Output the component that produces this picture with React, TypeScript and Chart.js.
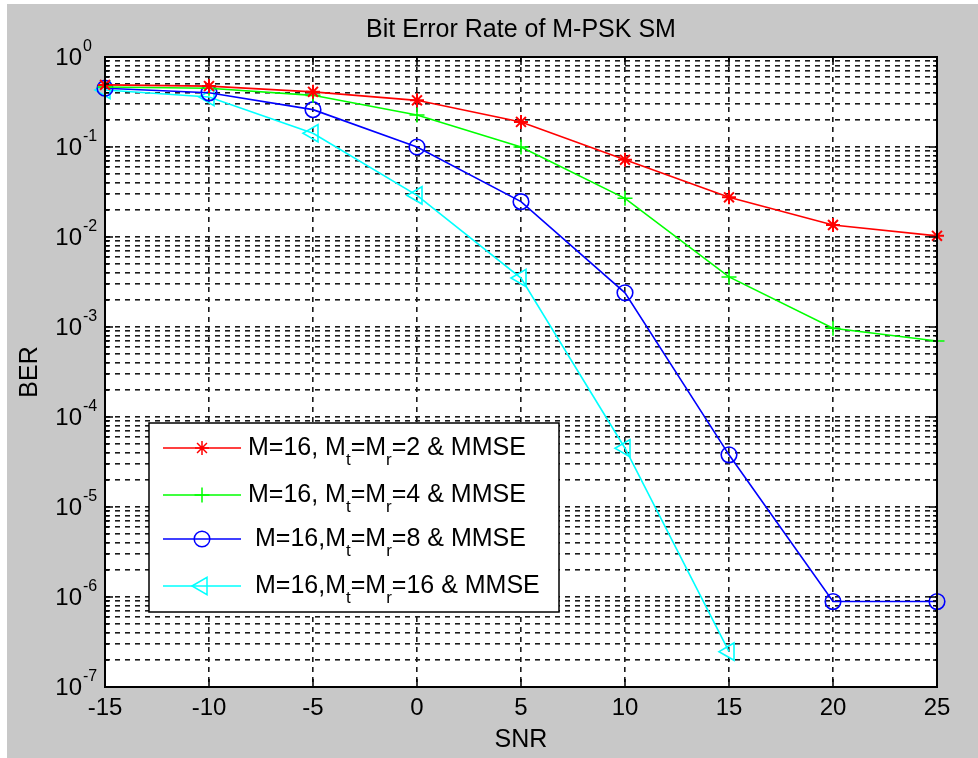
import React, { useEffect, useRef } from 'react';
import { Chart, registerables } from 'chart.js';
import { drawPoint } from 'chart.js/helpers';

Chart.register(...registerables);

// ---------- data ----------
const snr = [-15, -10, -5, 0, 5, 10, 15, 20, 25];
const snrMt16 = [-15, -10, -5, 0, 5, 10, 15];
const berMt2 = [0.49, 0.475, 0.41, 0.33, 0.19, 0.072, 0.0276, 0.0136, 0.0103];
const berMt4 = [0.464, 0.45, 0.375, 0.227, 0.1, 0.0269, 0.0036, 0.00097, 0.0007];
const berMt8 = [0.45, 0.4, 0.26, 0.1, 0.0247, 0.0024, 3.8e-5, 8.9e-7, 8.9e-7];
const berMt16 = [0.43, 0.36, 0.142, 0.029, 0.0035, 4.5e-5, 2.47e-7];

const seriesColors = ['#ff0000', '#00ff00', '#0000ff', '#00ffff'];
const seriesMarkers = ['star', 'cross', 'circle', 'triangle'];
const seriesMarkerRadius = [7, 7.5, 7.8, 10];
const seriesMarkerRotation = [0, 0, 0, -90];

// legend labels: [normal, subscript, normal, subscript, normal]
const legendMt2 = ['M=16, M', 't', '=M', 'r', '=2 & MMSE'];
const legendMt4 = ['M=16, M', 't', '=M', 'r', '=4 & MMSE'];
const legendMt8 = ['M=16,M', 't', '=M', 'r', '=8 & MMSE'];
const legendMt16 = ['M=16,M', 't', '=M', 'r', '=16 & MMSE'];

const xTickValues = [-15, -10, -5, 0, 5, 10, 15, 20, 25];
const yTickExponents = [0, -1, -2, -3, -4, -5, -6, -7];
const yMinorMantissas = [2, 3, 4, 5, 6, 7, 8, 9];

const titleText = 'Bit Error Rate of M-PSK SM';
const xAxisLabel = 'SNR';
const yAxisLabel = 'BER';

const FONT = '"Liberation Sans", Arial, Helvetica, sans-serif';

function toPoints(xs: number[], ys: number[]) {
  return xs.map((x, i) => ({ x, y: ys[i] }));
}

const decorPlugin = {
  id: 'decor',
  beforeDraw(chart: any) {
    const { ctx, width, height, chartArea: a } = chart;
    ctx.save();
    ctx.fillStyle = '#ffffff';
    ctx.fillRect(0, 0, width, height);
    ctx.fillStyle = '#c8c8c8';
    ctx.fillRect(7, 4, width - 7, height - 4);
    ctx.fillStyle = '#ffffff';
    ctx.fillRect(a.left, a.top, a.right - a.left, a.bottom - a.top);
    ctx.restore();
  },
  afterDatasetsDraw(chart: any) {
    const { ctx, chartArea: a, scales } = chart;
    const xs = scales.x;
    const ys = scales.y;
    ctx.save();
    // box
    ctx.strokeStyle = '#000000';
    ctx.lineWidth = 2;
    ctx.setLineDash([]);
    ctx.strokeRect(a.left, a.top, a.right - a.left, a.bottom - a.top);

    // inside ticks
    ctx.lineWidth = 1.5;
    ctx.beginPath();
    xTickValues.forEach((v) => {
      const px = xs.getPixelForValue(v);
      ctx.moveTo(px, a.bottom);
      ctx.lineTo(px, a.bottom - 8);
      ctx.moveTo(px, a.top);
      ctx.lineTo(px, a.top + 8);
    });
    yTickExponents.forEach((e) => {
      const py = ys.getPixelForValue(Math.pow(10, e));
      ctx.moveTo(a.left, py);
      ctx.lineTo(a.left + 8, py);
      ctx.moveTo(a.right, py);
      ctx.lineTo(a.right - 8, py);
      if (e > -7) {
        yMinorMantissas.forEach((m) => {
          const pm = ys.getPixelForValue(m * Math.pow(10, e - 1));
          ctx.moveTo(a.left, pm);
          ctx.lineTo(a.left + 4, pm);
          ctx.moveTo(a.right, pm);
          ctx.lineTo(a.right - 4, pm);
        });
      }
    });
    ctx.stroke();

    // x tick labels
    ctx.fillStyle = '#000000';
    ctx.font = `24px ${FONT}`;
    ctx.textAlign = 'center';
    ctx.textBaseline = 'alphabetic';
    xTickValues.forEach((v) => {
      ctx.fillText(String(v), xs.getPixelForValue(v), a.bottom + 28);
    });

    // y tick labels 10^e
    yTickExponents.forEach((e) => {
      const py = ys.getPixelForValue(Math.pow(10, e));
      ctx.font = `24px ${FONT}`;
      ctx.textAlign = 'right';
      ctx.fillText('10', a.left - 23, py + 8);
      ctx.font = `16px ${FONT}`;
      ctx.textAlign = 'left';
      ctx.fillText(String(e), a.left - 22, py - 6);
    });

    // title and axis labels
    ctx.font = `25px ${FONT}`;
    ctx.textAlign = 'center';
    ctx.fillText(titleText, (a.left + a.right) / 2, 37);
    ctx.fillText(xAxisLabel, (a.left + a.right) / 2, 747);
    ctx.save();
    ctx.translate(37, (a.top + a.bottom) / 2);
    ctx.rotate(-Math.PI / 2);
    ctx.fillText(yAxisLabel, 0, 0);
    ctx.restore();

    // legend
    const lx = 149, ly = 423, lw = 410, lh = 189;
    ctx.fillStyle = '#ffffff';
    ctx.fillRect(lx, ly, lw, lh);
    ctx.strokeStyle = '#000000';
    ctx.lineWidth = 1.5;
    ctx.strokeRect(lx, ly, lw, lh);
    const rows = [legendMt2, legendMt4, legendMt8, legendMt16];
    const rowY = [448, 495, 539, 586];
    const textX = [248, 248, 255, 255];
    rows.forEach((parts, i) => {
      const y = rowY[i];
      ctx.strokeStyle = seriesColors[i];
      ctx.lineWidth = 1.5;
      ctx.beginPath();
      ctx.moveTo(163, y);
      ctx.lineTo(241, y);
      ctx.stroke();
      ctx.fillStyle = 'rgba(0,0,0,0)';
      drawPoint(ctx, {
        pointStyle: seriesMarkers[i],
        radius: seriesMarkerRadius[i],
        rotation: seriesMarkerRotation[i],
        borderWidth: 1.5,
      } as any, 202, y);
      ctx.fillStyle = '#000000';
      ctx.textAlign = 'left';
      let x = textX[i];
      parts.forEach((p, k) => {
        const sub = k % 2 === 1;
        ctx.font = sub ? `17px ${FONT}` : `25px ${FONT}`;
        ctx.fillText(p, x, sub ? y + 17 : y + 7);
        x += ctx.measureText(p).width;
      });
    });
    ctx.restore();
  },
};

export default function App() {
  const ref = useRef<HTMLCanvasElement | null>(null);
  useEffect(() => {
    document.body.style.margin = '0';
    const canvas = ref.current!;
    const yGrid: number[] = [];
    yTickExponents.forEach((e) => {
      yGrid.push(Math.pow(10, e));
      if (e > -7) yMinorMantissas.forEach((m) => yGrid.push(m * Math.pow(10, e - 1)));
    });
    const mk = (label: string, data: any[], i: number) => ({
      label,
      data,
      borderColor: seriesColors[i],
      backgroundColor: 'rgba(0,0,0,0)',
      borderWidth: 1.6,
      pointStyle: seriesMarkers[i] as any,
      pointRadius: seriesMarkerRadius[i],
      pointRotation: seriesMarkerRotation[i],
      pointBorderColor: seriesColors[i],
      pointBackgroundColor: 'rgba(0,0,0,0)',
      pointBorderWidth: i === 0 ? 2 : 1.6,
      tension: 0,
      fill: false,
      clip: false as any,
    });
    const chart = new Chart(canvas, {
      type: 'line',
      data: {
        datasets: [
          mk(legendMt2.join(''), toPoints(snr, berMt2), 0),
          mk(legendMt4.join(''), toPoints(snr, berMt4), 1),
          mk(legendMt8.join(''), toPoints(snr, berMt8), 2),
          mk(legendMt16.join(''), toPoints(snrMt16, berMt16), 3),
        ],
      },
      options: {
        responsive: false,
        animation: false,
        events: [],
        layout: { padding: { left: 105, top: 57, right: 41, bottom: 71 } },
        plugins: { legend: { display: false }, title: { display: false }, tooltip: { enabled: false } },
        scales: {
          x: {
            type: 'linear',
            min: -15,
            max: 25,
            ticks: { display: false, stepSize: 5 },
            grid: { color: '#1a1a1a', lineWidth: 1.6, drawTicks: false },
            border: { display: false, dash: [5, 5] },
          },
          y: {
            type: 'logarithmic',
            min: 1e-7,
            max: 1,
            afterBuildTicks: (scale: any) => {
              scale.ticks = yGrid.map((v) => ({ value: v }));
            },
            ticks: { display: false },
            grid: { color: '#1a1a1a', lineWidth: 1.6, drawTicks: false },
            border: { display: false, dash: [5, 5] },
          },
        },
      },
      plugins: [decorPlugin],
    });
    return () => chart.destroy();
  }, []);
  return <canvas ref={ref} width={978} height={758} style={{ display: 'block' }} />;
}
